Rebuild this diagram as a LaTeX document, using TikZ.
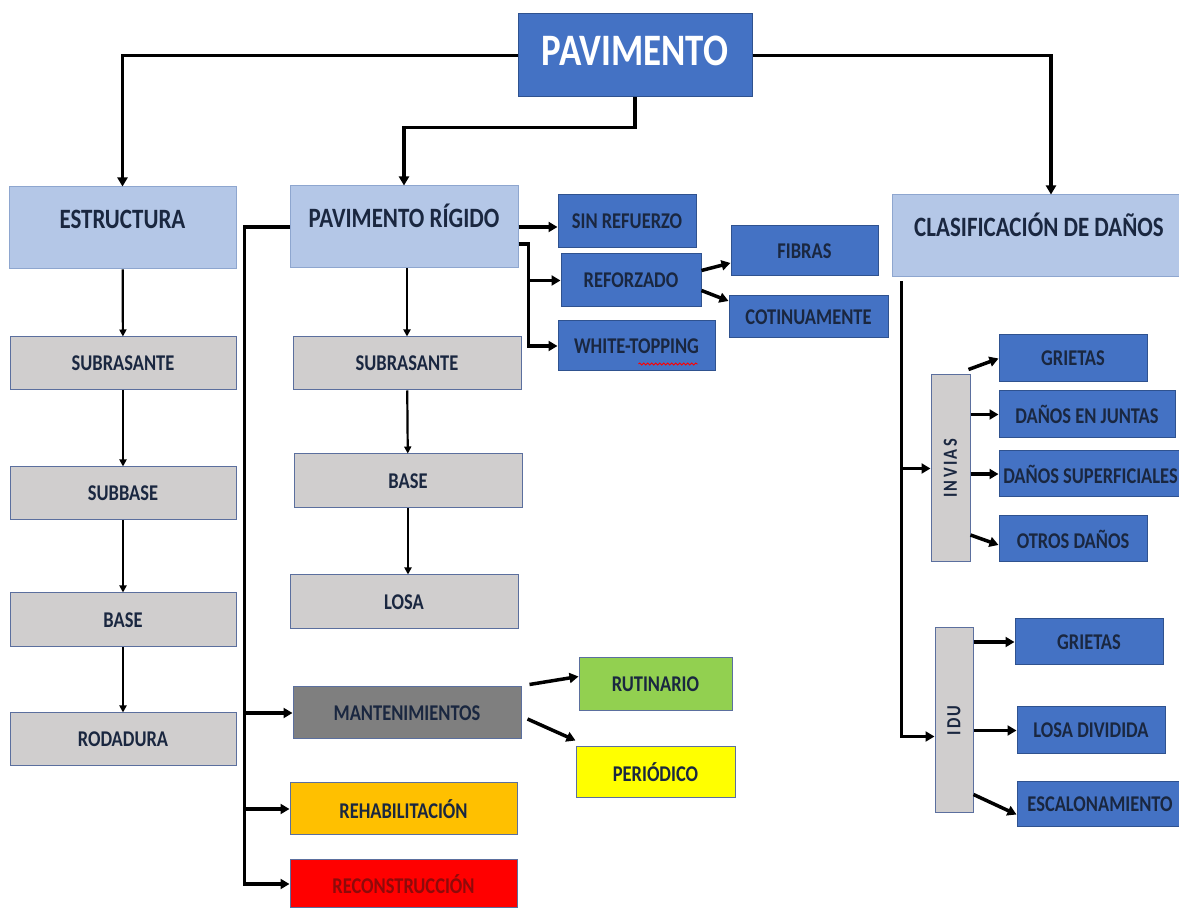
\documentclass[tikz,border=0pt]{standalone}
\usepackage{fontspec}
\setmainfont{Carlito}[FakeStretch=0.82]
\usetikzlibrary{arrows.meta,calc,decorations.pathmorphing}
\definecolor{txt}{HTML}{1A2740}
\definecolor{topFill}{HTML}{4472C4}
\definecolor{topDraw}{HTML}{2F528F}
\definecolor{headFill}{HTML}{B4C7E7}
\definecolor{headDraw}{HTML}{8EA6CF}
\definecolor{layFill}{HTML}{D0CECE}
\definecolor{layDraw}{HTML}{5B6F9E}
\definecolor{mantFill}{HTML}{7F7F7F}
\definecolor{rutFill}{HTML}{92D050}
\definecolor{perFill}{HTML}{FFFF00}
\definecolor{rehFill}{HTML}{FFC000}
\definecolor{recFill}{HTML}{FF0000}
\definecolor{recTxt}{HTML}{8E0A0A}
\newcommand{\labfont}{\fontsize{22.5}{25}\selectfont\bfseries}
\newcommand{\headfont}{\fontsize{28}{31}\selectfont\bfseries}
\newcommand{\pavfont}{\fontsize{45}{49}\selectfont\bfseries}
\tikzset{
  box/.style   ={draw, inner sep=0pt, line width=1pt, text=txt, font=\labfont, align=center},
  top/.style   ={box, fill=topFill, draw=topDraw, text=white, font=\pavfont,
                 text height=28pt, text depth=8pt},
  head/.style  ={box, fill=headFill, draw=headDraw, font=\headfont, minimum width=228pt,
                 minimum height=82pt, text height=18pt, text depth=16pt},
  layer/.style ={box, fill=layFill, draw=layDraw, minimum width=227pt, minimum height=53pt},
  dmg/.style   ={box, fill=topFill, draw=topDraw, minimum width=148pt, minimum height=47pt},
  tall/.style  ={box, fill=layFill, draw=layDraw, minimum width=39pt, rotate=90,
                 font=\fontsize{20}{22}\selectfont\bfseries\addfontfeature{LetterSpace=12}},
  sz/.style 2 args={minimum width=#1pt, minimum height=#2pt},
  arr/.style   ={-{Triangle[length=9pt,width=10pt]}, line width=3.5pt},
  carr/.style  ={-{Triangle[length=7pt,width=7pt]}, line width=2.2pt},
}
\begin{document}
\begin{tikzpicture}[x=1pt,y=1pt]
  \path[use as bounding box, fill=white] (0,0) rectangle (1179,911);
  % top and the three heads
  \node[top, sz={234}{83}]        (pav)  at (635,855.5) {PAVIMENTO};
  \node[head, sz={227}{82}]       (estr) at (122.5,683) {ESTRUCTURA};
  \node[head]                     (prig) at (404,684)   {PAVIMENTO RÍGIDO};
  \node[head, sz={294}{82}]       (clas) at (1039,675)  {CLASIFICACIÓN DE DAÑOS};

  % layers
  \node[layer, sz={226}{53}]      (sub1)  at (123,547.5) {SUBRASANTE};
  \node[layer, sz={226}{53}]      (subb)  at (123,417.5) {SUBBASE};
  \node[layer, sz={226}{54}]      (base1) at (123,291)   {BASE};
  \node[layer, sz={226}{53}]      (roda)  at (123,171.5) {RODADURA};
  \node[layer, sz={228}{53}]      (sub2)  at (407,547.5) {SUBRASANTE};
  \node[layer, sz={228}{54}]      (base2) at (408,430)   {BASE};
  \node[layer, sz={228}{54}]      (losa)  at (404,309)   {LOSA};

  % rigid pavement types
  \node[dmg, sz={138}{53}]        (sinref) at (627,689.5) {SIN REFUERZO};
  \node[dmg, sz={140}{53}]        (refor)  at (631,630.5) {REFORZADO};
  \node[dmg, sz={157}{50}]        (wtop)   at (636.5,565) {WHITE-TOPPING};
  \node[dmg, sz={147}{50}]        (fibras) at (804.5,660) {FIBRAS};
  \node[dmg, sz={159}{42}]        (cotin)  at (808.5,594) {COTINUAMENTE};

  % interventions
  \node[box, fill=mantFill, draw=layDraw, sz={228}{52}] (mant)  at (407,198)    {MANTENIMIENTOS};
  \node[box, fill=rutFill, draw=layDraw, sz={153}{53}]  (rutin) at (655.5,226.5) {RUTINARIO};
  \node[box, fill=perFill, draw=layDraw, sz={159}{51}]  (perio) at (655.5,138.5) {PERIÓDICO};
  \node[box, fill=rehFill, draw=layDraw, sz={227}{52}]  (rehab) at (403.5,102)  {REHABILITACIÓN};
  \node[box, fill=recFill, draw=layDraw, text=recTxt, sz={227}{48}] (recon) at (403.5,27) {RECONSTRUCCIÓN};

  % damage catalogues
  \node[tall, minimum width=187pt, minimum height=39pt] (invias) at (950.5,442.5) {INVIAS};
  \node[tall, minimum width=185pt, minimum height=38pt] (idu)    at (954,190.5)   {IDU};
  \node[dmg]                      (g1)    at (1073,552.5) {GRIETAS};
  \node[dmg, sz={176}{47}]        (dj)    at (1087,496.5) {DAÑOS EN JUNTAS};
  \node[dmg, sz={183}{46}]        (ds)    at (1090.5,437) {DAÑOS SUPERFICIALES};
  \node[dmg, sz={148}{46}]        (otros) at (1073,372)   {OTROS DAÑOS};
  \node[dmg, sz={148}{46}]        (g2)    at (1089,269)   {GRIETAS};
  \node[dmg]                      (losad) at (1091,180.5) {LOSA DIVIDIDA};
  \node[dmg, sz={166}{45}]        (escal) at (1100,106.5) {ESCALONAMIENTO};

  % spell-check mark
  \draw[red, line width=0.9pt, decorate, decoration={snake, amplitude=1pt, segment length=4pt}]
       ($(wtop.center)+(2,-18)$) -- ($(wtop.center)+(61,-18)$);

  % connectors from the top
  \draw[arr] (pav.west) -| (estr.north);
  \draw[arr] (pav.south) -- ++(0,-30) -| (prig.north);
  \draw[arr] (pav.east) -| ([xshift=12pt]clas.north);

  % layer columns
  \draw[carr] (estr) -- (sub1); \draw[carr] (sub1) -- (subb);
  \draw[carr] (subb) -- (base1); \draw[carr] (base1) -- (roda);
  \draw[carr] (sub2.north |- prig.south) -- (sub2.north);
  \draw[carr] (sub2) -- (base2);
  \draw[carr] (base2.south) -- (base2.south |- losa.north);

  % interventions bracket
  \coordinate (sp1) at ($(prig.west)+(-45,0)$);
  \draw[arr] (prig.west) -- (sp1) |- (recon.west);
  \draw[arr] (sp1 |- mant.west) -- (mant.west);
  \draw[arr] (sp1 |- rehab.west) -- (rehab.west);
  \draw[arr] ([shift={(8pt,2pt)}]mant.north east) -- ([yshift=8pt]rutin.west);
  \draw[arr] ([shift={(6pt,-6pt)}]mant.east) -- ([yshift=6pt]perio.north west);

  % types bracket
  \draw[arr] (prig.east) -- (prig.east -| sinref.west);
  \coordinate (sp2) at ($(prig.east)+(10,-17)$);
  \draw[arr] (prig.east |- sp2) -- (sp2) |- (wtop.west);
  \draw[arr] (sp2 |- refor.west) -- (refor.west);
  \draw[arr] ([yshift=10pt]refor.east) -- ([yshift=-12pt]fibras.west);
  \draw[arr] ([yshift=-10pt]refor.east) -- ([yshift=16pt]cotin.west);

  % damage bracket (INVIAS and IDU are turned: north is their left side)
  \coordinate (sp3) at ($(clas.south west)+(10,-4)$);
  \draw[arr] (sp3) |- ([yshift=-16pt]idu.north);
  \draw[arr] (sp3 |- invias.north) -- (invias.north);
  \draw[arr] ([shift={(-2pt,5pt)}]invias.south east) -- (g1.west);
  \draw[arr] (invias.south |- dj.west) -- (dj.west);
  \draw[arr] (invias.south |- ds.west) -- (ds.west);
  \draw[arr] ($(invias.south |- otros.west)+(0,4)$) -- ([yshift=-6pt]otros.west);
  \draw[arr] (idu.south |- g2.west) -- (g2.west);
  \draw[arr] (idu.south |- losad.west) -- (losad.west);
  \draw[arr] ($(idu.south |- escal.west)+(0,10)$) -- ([yshift=-10pt]escal.west);
\end{tikzpicture}
\end{document}
